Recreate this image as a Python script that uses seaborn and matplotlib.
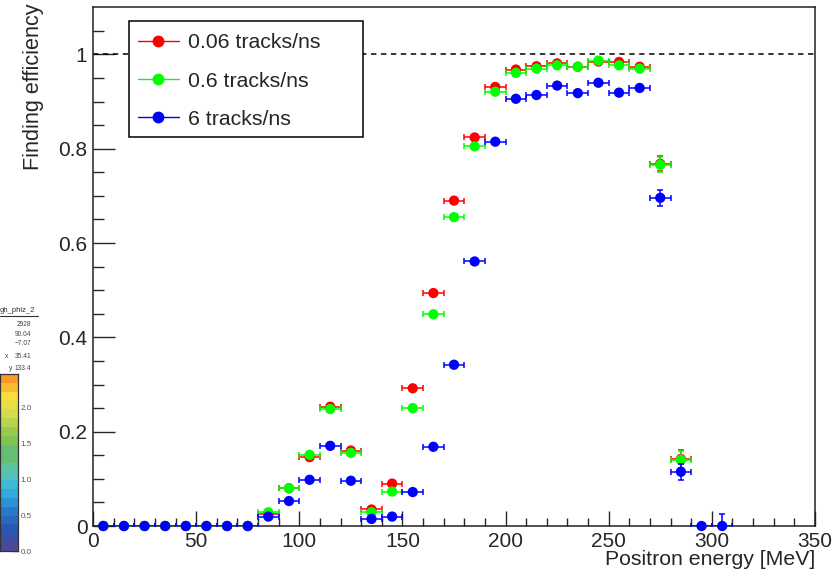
import numpy as np
import pandas as pd
import seaborn as sns
import matplotlib.pyplot as plt
from matplotlib.lines import Line2D
from matplotlib.patches import Rectangle
from matplotlib.colors import LinearSegmentedColormap

# Bin centres (10 MeV bins)
energy = [5, 15, 25, 35, 45, 55, 65, 75, 85, 95, 105, 115, 125, 135, 145, 155,
          165, 175, 185, 195, 205, 215, 225, 235, 245, 255, 265, 275, 285]
energy_blue = energy + [295, 305]

eff_006 = [0, 0, 0, 0, 0, 0, 0, 0, 0.025, 0.080, 0.146, 0.253, 0.160, 0.035, 0.090, 0.292,
           0.494, 0.690, 0.824, 0.931, 0.968, 0.975, 0.981, 0.974, 0.985, 0.984, 0.974, 0.768, 0.142]
eff_06 = [0, 0, 0, 0, 0, 0, 0, 0, 0.029, 0.080, 0.151, 0.248, 0.155, 0.029, 0.073, 0.250,
          0.449, 0.655, 0.805, 0.921, 0.961, 0.970, 0.977, 0.974, 0.987, 0.977, 0.970, 0.766, 0.140]
eff_6 = [0, 0, 0, 0, 0, 0, 0, 0, 0.020, 0.053, 0.098, 0.170, 0.096, 0.015, 0.020, 0.072,
         0.168, 0.342, 0.561, 0.815, 0.906, 0.914, 0.934, 0.918, 0.940, 0.919, 0.929, 0.696, 0.115,
         0, 0]

# Statistical uncertainties (visible only where they exceed the marker)
err_006 = [0] * 27 + [0.016, 0.019]
err_06 = [0] * 27 + [0.016, 0.019]
err_6_lo = [0] * 27 + [0.017, 0.017, 0, 0]
err_6_hi = [0] * 27 + [0.017, 0.017, 0, 0.026]

labels = ["0.06 tracks/ns", "0.6 tracks/ns", "6 tracks/ns"]
colors = ["#ff0000", "#00ff00", "#0000ff"]

frames = [
    pd.DataFrame({"E": energy, "eff": eff_006, "lo": err_006, "hi": err_006, "rate": labels[0]}),
    pd.DataFrame({"E": energy, "eff": eff_06, "lo": err_06, "hi": err_06, "rate": labels[1]}),
    pd.DataFrame({"E": energy_blue, "eff": eff_6, "lo": err_6_lo, "hi": err_6_hi, "rate": labels[2]}),
]

sns.set_style("ticks")
plt.rcParams["font.family"] = ["Liberation Sans", "DejaVu Sans"]

W, H = 833, 572
fig = plt.figure(figsize=(W / 100, H / 100), dpi=100)
fig.patch.set_facecolor("white")

ax_l, ax_r, ax_t, ax_b = 93, 815, 7.3, 526
ax = fig.add_axes([ax_l / W, 1 - ax_b / H, (ax_r - ax_l) / W, (ax_b - ax_t) / H])


def px_to_axes(x, y):
    return (x - ax_l) / (ax_r - ax_l), (ax_b - y) / (ax_b - ax_t)


ax.axhline(1.0, color="black", lw=1.1, ls=(0, (3.5, 3)), zorder=1)

for i, (df, c) in enumerate(zip(frames, colors)):
    z = 2 + i
    ax.errorbar(df["E"], df["eff"], xerr=5, yerr=[df["lo"], df["hi"]], fmt="none",
                ecolor=c, elinewidth=1.1, capsize=2.4, capthick=1.1, zorder=z)
    sns.scatterplot(data=df, x="E", y="eff", color=c, s=55, edgecolor="none",
                    ax=ax, zorder=z + 0.5, legend=False, clip_on=False)

ax.set_xlim(0, 350)
ax.set_ylim(0, 1.1)
ax.set_xticks([0, 50, 100, 150, 200, 250, 300, 350])
ax.set_xticks(np.arange(0, 351, 10), minor=True)
ax.set_yticks([0, 0.2, 0.4, 0.6, 0.8, 1.0])
ax.set_yticklabels(["0", "0.2", "0.4", "0.6", "0.8", "1"])
ax.set_yticks(np.arange(0, 1.1, 0.05), minor=True)
ax.tick_params(axis="x", which="major", direction="in", length=11, width=1, pad=4, labelsize=15)
ax.tick_params(axis="x", which="minor", direction="in", length=5.5, width=1)
ax.tick_params(axis="y", which="major", direction="in", length=16, width=1, pad=4, labelsize=15)
ax.tick_params(axis="y", which="minor", direction="in", length=8, width=1)
for s in ax.spines.values():
    s.set_linewidth(1.1)
    s.set_color("#222222")

ax.set_xlabel("Positron energy [MeV]", fontsize=15.3, loc="right")
ax.xaxis.set_label_coords(1.0, -0.0455)
ax.set_ylabel("Finding efficiency", fontsize=15.6, loc="top")
ax.yaxis.set_label_coords(-0.068, 1.007)

# Legend: fixed-size frame with the entries placed inside it
x0, y0 = px_to_axes(129, 20.7)
x1, y1 = px_to_axes(362.7, 136.7)
ax.add_patch(Rectangle((x0, y1), x1 - x0, y0 - y1, transform=ax.transAxes,
                       facecolor="white", edgecolor="black", lw=1.1, zorder=9))
handles = [Line2D([0], [0], color=c, marker="o", markersize=7.5, lw=1) for c in colors]
leg = ax.legend(handles, labels, loc="upper left",
                bbox_to_anchor=px_to_axes(137.5, 33.5),
                borderaxespad=0, borderpad=0, frameon=False,
                fontsize=15.3, handlelength=1.95, handletextpad=0.45, labelspacing=0.9)
leg.set_zorder(10)

# Neighbouring panel: statistics box and colour scale
fig.text(0, 1 - 310 / H, "gh_phiz_2", fontsize=5.5, color="#333333", va="center", ha="left")
fig.add_artist(Line2D([0, 38 / W], [1 - 315.5 / H, 1 - 315.5 / H], color="#333333", lw=0.8))
stat_vals = ["2928", "90.04", "\u22127.07", "35.41", "133.4"]
stat_y = [324, 334, 343.5, 357, 368]
for v, y in zip(stat_vals, stat_y):
    fig.text(31 / W, 1 - y / H, v, fontsize=4.8, color="#444444", ha="right", va="center")
fig.text(5 / W, 1 - 357 / H, "x", fontsize=4.8, color="#444444", ha="left", va="center")
fig.text(9 / W, 1 - 368 / H, "y", fontsize=4.8, color="#444444", ha="left", va="center")

bird = LinearSegmentedColormap.from_list("bird", [
    (0.30, 0.28, 0.60), (0.15, 0.35, 0.70), (0.15, 0.50, 0.80),
    (0.20, 0.70, 0.88), (0.35, 0.78, 0.70), (0.40, 0.74, 0.35),
    (0.55, 0.78, 0.30), (0.82, 0.86, 0.30), (0.97, 0.88, 0.25), (0.98, 0.60, 0.15)], N=20)
cb_top, cb_bot = 374, 551
cax = fig.add_axes([0, 1 - cb_bot / H, 18 / W, (cb_bot - cb_top) / H])
zmax = (cb_bot - cb_top) / 72.0
levels = np.linspace(0, zmax, 21)
cax.pcolormesh([0, 1], levels, levels[:-1].reshape(-1, 1), cmap=bird, vmin=0, vmax=zmax)
cax.set_xlim(0, 1)
cax.set_ylim(0, zmax)
cax.set_xticks([])
cax.yaxis.tick_right()
cax.set_yticks([0, 0.5, 1.0, 1.5, 2.0])
cax.set_yticklabels(["0.0", "0.5", "1.0", "1.5", "2.0"])
cax.tick_params(axis="y", direction="in", length=5, width=0.9, pad=2, labelsize=5.8,
                labelcolor="#555555")
for s in cax.spines.values():
    s.set_linewidth(0.9)
    s.set_color("#333333")

fig.savefig("out.png", dpi=100)
